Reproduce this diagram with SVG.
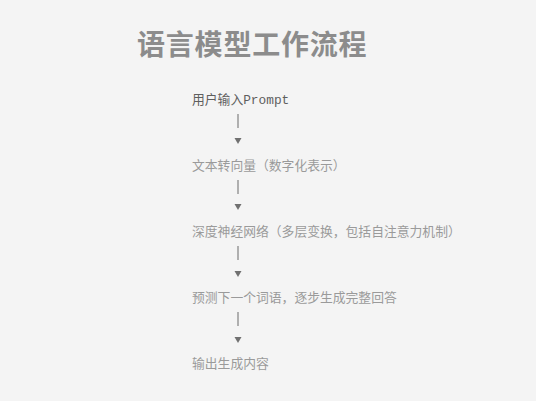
<svg xmlns="http://www.w3.org/2000/svg" width="536" height="401" viewBox="0 0 536 401">
<defs>
<style>
.bg{fill:#f4f4f4}
.title{font-family:"Noto Sans CJK SC","Noto Sans",sans-serif;font-size:28px;font-weight:bold;fill:#8c8c8c;letter-spacing:0.8px}
.step{font-family:"Noto Sans CJK SC","Noto Sans",sans-serif;font-size:12.8px;fill:#9a9a9a}
.first{fill:#5e5e5e}
.mono{font-family:"Liberation Mono","DejaVu Sans Mono","Noto Sans CJK SC",monospace}
.bar{stroke:#8a8a8a;stroke-width:1.3}
.tri{fill:#707070}
</style>
</defs>
<rect class="bg" x="0" y="0" width="536" height="401"/>
<text class="title" x="137" y="55">语言模型工作流程</text>
<g id="step1"><text class="step first" x="192" y="103.5">用户输入<tspan class="mono">Prompt</tspan></text></g>
<g id="step2"><text class="step" x="192" y="169.5">文本转向量（数字化表示）</text></g>
<g id="step3"><text class="step" x="192" y="235.5">深度神经网络（多层变换，包括自注意力机制）</text></g>
<g id="step4"><text class="step" x="192" y="301.5">预测下一个词语，逐步生成完整回答</text></g>
<g id="step5"><text class="step" x="192" y="367.5">输出生成内容</text></g>
<g id="connectors">
<line class="bar" x1="238" y1="114" x2="238" y2="128"/>
<polygon class="tri" points="234.5,138 241.5,138 238,144"/>
<line class="bar" x1="238" y1="180" x2="238" y2="194"/>
<polygon class="tri" points="234.5,204 241.5,204 238,210"/>
<line class="bar" x1="238" y1="246" x2="238" y2="260"/>
<polygon class="tri" points="234.5,271 241.5,271 238,277"/>
<line class="bar" x1="238" y1="312" x2="238" y2="326"/>
<polygon class="tri" points="234.5,337 241.5,337 238,343"/>
</g>
</svg>
